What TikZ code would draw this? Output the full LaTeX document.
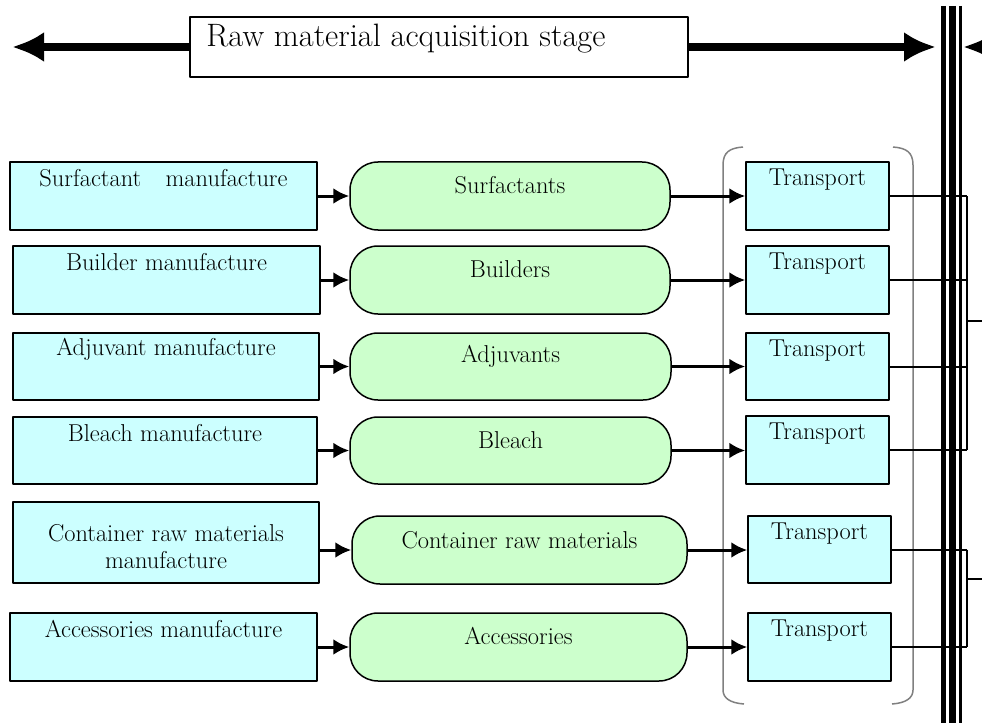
\documentclass[tikz,border=0pt]{standalone}
\usetikzlibrary{arrows.meta}
\definecolor{srccol}{HTML}{CCFFFF}
\definecolor{matcol}{HTML}{CCFFCC}
\tikzset{
  srcbox/.style={draw,line width=1.5bp,fill=srccol,inner sep=0pt},
  matbox/.style={draw,line width=1.5bp,fill=matcol,rounded corners=28bp,inner sep=0pt},
  stagebox/.style={draw,line width=1.5bp,fill=white,inner sep=0pt},
  boxtext/.style={font=\fontsize{24.5}{27}\selectfont,align=center,inner sep=0pt},
  stagetext/.style={font=\fontsize{32.5}{36}\selectfont,inner sep=0pt},
  flow/.style={-{Latex[length=16bp,width=16bp]},line width=3bp},
  link/.style={line width=2bp},
  busline/.style={line width=1.5bp},
  bigarrow/.style={-{Latex[length=32bp,width=30bp]},line width=8bp},
  bracket/.style={draw=gray,line width=1.5bp},
  wall/.style={line width=#1}
}
\begin{document}
\begin{tikzpicture}[x=1bp,y=-1bp,line join=bevel]
  \clip (0,0) rectangle (982,723);
%%
  % Walls between stages
  \draw[wall=5bp] (943.5,6) -- (943.5,730);
  \draw[wall=7bp] (952,6) -- (952,730);
  \draw[wall=3bp] (960.5,6) -- (960.5,730);
  % Bracket round the transport boxes
  \draw[bracket] (743,147) .. controls (730,148) and (723,152) .. (723,165) -- (723,690) .. controls (723,698) and (730,703) .. (744,704);
  \draw[bracket] (893,147) .. controls (906,148) and (913,152) .. (913,165) -- (913,690) .. controls (913,698) and (906,703) .. (892,704);
  % Node: stage label
  \coordinate (leftend) at (12,47);
  \coordinate (rightend) at (936,47);
  \coordinate (nextend) at (1010,47);
  \coordinate (nexttip) at (963,47);
  \node[stagebox,minimum width=498bp,minimum height=60bp] (stage) at (439,47) {};
  \node[stagetext,anchor=west] (stage-t) at ([xshift=17bp,yshift=8bp]stage.west) {Raw material acquisition stage};
  \draw[bigarrow] (stage.west) -- (leftend);
  \draw[bigarrow] (stage.east) -- (rightend);
  \draw[bigarrow] (nextend) -- (nexttip);
%
  % Node: manufacture boxes
  \node[srcbox,minimum width=307bp,minimum height=68bp] (surfmfg) at (163.5,196) {};
  \node[boxtext] (surfmfg-t) at ([yshift=-17bp]surfmfg.north) {Surfactant\quad manufacture};
  \node[srcbox,minimum width=307bp,minimum height=68bp] (buildmfg) at (166.5,280) {};
  \node[boxtext] (buildmfg-t) at ([yshift=-17bp]buildmfg.north) {Builder manufacture};
  \node[srcbox,minimum width=306bp,minimum height=67bp] (adjmfg) at (166,366.5) {};
  \node[boxtext] (adjmfg-t) at ([yshift=-17bp]adjmfg.north) {Adjuvant manufacture};
  \node[srcbox,minimum width=304bp,minimum height=67bp] (bleachmfg) at (165,450.5) {};
  \node[boxtext] (bleachmfg-t) at ([yshift=-17bp]bleachmfg.north) {Bleach manufacture};
  \node[srcbox,minimum width=306bp,minimum height=81bp] (contmfg) at (166,542.5) {};
  \node[boxtext] (contmfg-t) at ([yshift=-4bp]contmfg.center) {Container raw materials\\manufacture};
  \node[srcbox,minimum width=307bp,minimum height=68bp] (accmfg) at (163.5,647) {};
  \node[boxtext] (accmfg-t) at ([yshift=-17bp]accmfg.north) {Accessories manufacture};
%
  % Node: materials
  \node[matbox,minimum width=320bp,minimum height=68bp] (surf) at (510,196) {};
  \node[boxtext] (surf-t) at ([yshift=-24bp]surf.north) {Surfactants};
  \node[matbox,minimum width=320bp,minimum height=68bp] (build) at (510,280) {};
  \node[boxtext] (build-t) at ([yshift=-24bp]build.north) {Builders};
  \node[matbox,minimum width=321bp,minimum height=67bp] (adj) at (510.5,366.5) {};
  \node[boxtext] (adj-t) at ([yshift=-24bp]adj.north) {Adjuvants};
  \node[matbox,minimum width=321bp,minimum height=67bp] (bleach) at (510.5,450.5) {};
  \node[boxtext] (bleach-t) at ([yshift=-24bp]bleach.north) {Bleach};
  \node[matbox,minimum width=335bp,minimum height=68bp] (cont) at (519.5,550) {};
  \node[boxtext] (cont-t) at ([yshift=-25bp]cont.north) {Container raw materials};
  \node[matbox,minimum width=337bp,minimum height=68bp] (acc) at (518.5,647) {};
  \node[boxtext] (acc-t) at ([yshift=-24bp]acc.north) {Accessories};
%
  % Node: transport
  \node[srcbox,minimum width=143bp,minimum height=68bp] (trans1) at (817.5,196) {};
  \node[boxtext] (trans1-t) at ([yshift=-18bp]trans1.north) {Transport};
  \node[srcbox,minimum width=143bp,minimum height=68bp] (trans2) at (817.5,280) {};
  \node[boxtext] (trans2-t) at ([yshift=-18bp]trans2.north) {Transport};
  \node[srcbox,minimum width=143bp,minimum height=67bp] (trans3) at (817.5,366.5) {};
  \node[boxtext] (trans3-t) at ([yshift=-18bp]trans3.north) {Transport};
  \node[srcbox,minimum width=143bp,minimum height=68bp] (trans4) at (817.5,450) {};
  \node[boxtext] (trans4-t) at ([yshift=-18bp]trans4.north) {Transport};
  \node[srcbox,minimum width=143bp,minimum height=67bp] (trans5) at (819.5,549.5) {};
  \node[boxtext] (trans5-t) at ([yshift=-18bp]trans5.north) {Transport};
  \node[srcbox,minimum width=143bp,minimum height=68bp] (trans6) at (819.5,647) {};
  \node[boxtext] (trans6-t) at ([yshift=-18bp]trans6.north) {Transport};
%
  % Edge: manufacture -> materials
  \draw[flow] (surfmfg.east) -- (surf.west);
  \draw[flow] (buildmfg.east) -- (build.west);
  \draw[flow] (adjmfg.east) -- (adj.west);
  \draw[flow] (bleachmfg.east) -- (bleach.west);
  \draw[flow] (contmfg.east |- cont.west) -- (cont.west);
  \draw[flow] (accmfg.east) -- (acc.west);
  % Edge: materials -> transport
  \draw[flow] (surf.east) -- (trans1.west |- surf.east);
  \draw[flow] (build.east) -- (trans2.west |- build.east);
  \draw[flow] (adj.east) -- (trans3.west |- adj.east);
  \draw[flow] (bleach.east) -- (trans4.west |- bleach.east);
  \draw[flow] (cont.east) -- (trans5.west |- cont.east);
  \draw[flow] (acc.east) -- (trans6.west |- acc.east);
%
  % Edge: transport -> next stage
  \coordinate (bus) at (967,0);
  \coordinate (out1) at (982,321);
  \coordinate (out2) at (982,579);
  \draw[link] (trans1.east) -- (trans1.east -| bus);
  \draw[link] (trans2.east) -- (trans2.east -| bus);
  \draw[link] (trans3.east) -- (trans3.east -| bus);
  \draw[link] (trans4.east) -- (trans4.east -| bus);
  \draw[busline] (trans1.east -| bus) -- (trans4.east -| bus);
  \draw[link] (out1 -| bus) -- (out1);
  \draw[link] (trans5.east) -- (trans5.east -| bus);
  \draw[link] (trans6.east) -- (trans6.east -| bus);
  \draw[busline] (trans5.east -| bus) -- (trans6.east -| bus);
  \draw[link] (out2 -| bus) -- (out2);
%
\end{tikzpicture}
\end{document}
